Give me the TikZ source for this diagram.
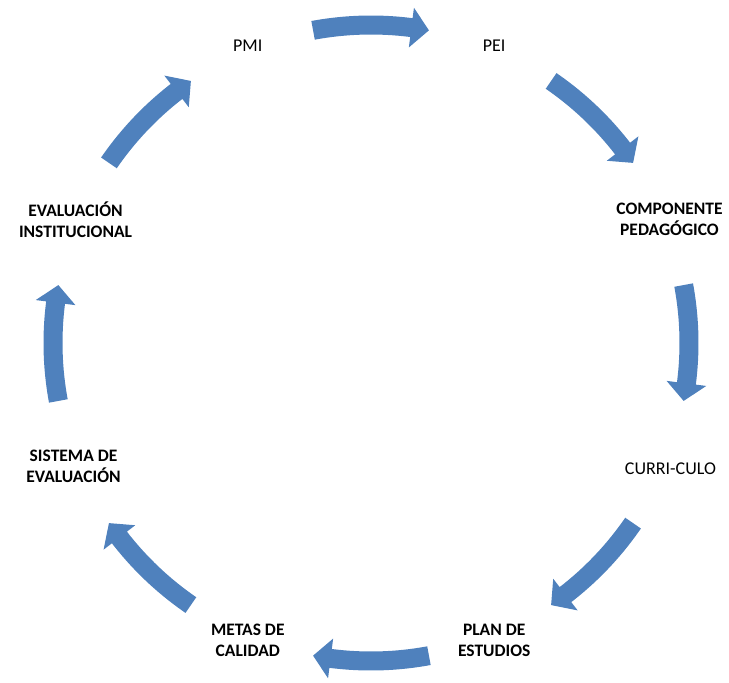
\documentclass[tikz,border=0pt]{standalone}
\usepackage{fontspec}
\setmainfont{Carlito}
\definecolor{arrowblue}{HTML}{4F81BD}
\begin{document}
\begin{tikzpicture}[x=1pt,y=1pt,
  lbl/.style={font=\fontsize{18}{21}\selectfont, align=center, inner sep=0pt},
  boldlbl/.style={lbl, font=\fontsize{17.5}{21}\selectfont\bfseries},
  cyclearrow/.style={fill=arrowblue, draw=none}]
\useasboundingbox (0,0) rectangle (729,-683);
\coordinate (c) at (371,-343);
\begin{scope}[shift={(c)}]
  \node[lbl]     (pmi)  at (112.5:322pt) {PMI};
  \node[lbl]     (pei)  at (67.5:322pt)  {PEI};
  \node[boldlbl, xshift=1pt] (comp) at (22.5:322pt)  {COMPONENTE\\PEDAGÓGICO};
  \node[lbl, xshift=2pt, yshift=-3pt] (curr) at (-22.5:322pt) {CURRI-CULO};
  \node[boldlbl] (plan) at (-67.5:322pt) {PLAN DE\\ESTUDIOS};
  \node[boldlbl] (meta) at (-112.5:322pt) {METAS DE\\CALIDAD};
  \node[boldlbl] (sist) at (-157.5:322pt) {SISTEMA DE\\EVALUACIÓN};
  \node[boldlbl, xshift=2pt] (eval) at (157.5:322pt) {EVALUACIÓN\\INSTITUCIONAL};
  \foreach \a in {90,45,0,-45,-90,-135,180,135}{
    \pgfmathsetmacro\s{\a+10.5}
    \pgfmathsetmacro\h{\a-7.3}
    \pgfmathsetmacro\t{\a-10.5}
    \fill[cyclearrow] (\s:327.5pt) arc[start angle=\s, end angle=\h, radius=327.5pt]
      -- (\h:338pt) -- (\t:318pt) -- (\h:298pt) -- (\h:308.5pt)
      arc[start angle=\h, end angle=\s, radius=308.5pt] -- cycle;
  }
\end{scope}
\end{tikzpicture}
\end{document}
